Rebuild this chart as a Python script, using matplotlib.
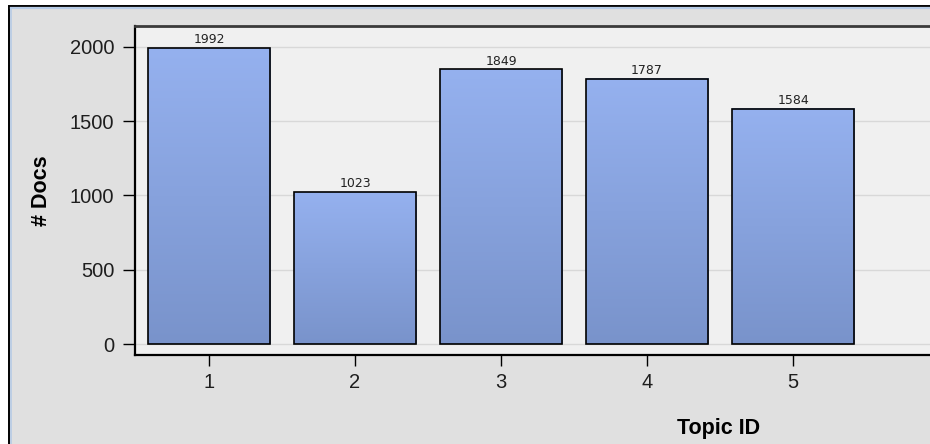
import matplotlib
matplotlib.use("Agg")
import matplotlib.pyplot as plt
import numpy as np
from matplotlib.colors import LinearSegmentedColormap
from matplotlib.patches import Rectangle
from matplotlib.lines import Line2D

topics = [1, 2, 3, 4, 5]
doc_counts = [1992, 1023, 1849, 1787, 1584]
y_ticks = [0, 500, 1000, 1500, 2000]

BAR_WIDTH = 0.836
BAR_TOP = "#95b1ef"
BAR_BOTTOM = "#7993cb"
PANEL_BG = "#e0e0e0"
PLOT_BG = "#f0f0f0"

W, H = 930, 444
fig = plt.figure(figsize=(W / 100, H / 100), dpi=100, facecolor="white")

# outer panel with black frame + light blue inner highlight (cut off right/bottom)
fig.add_artist(Rectangle((9 / W, -0.1), 1.2, (H - 6) / H + 0.1, transform=fig.transFigure,
                         facecolor=PANEL_BG, edgecolor="black", lw=1.4, zorder=-2))
fig.add_artist(Line2D([10.8 / W, 1.1], [(H - 8) / H] * 2, transform=fig.transFigure,
                      color="#b6cbe6", lw=1.6, zorder=-1))
fig.add_artist(Line2D([10.8 / W] * 2, [-0.1, (H - 8) / H], transform=fig.transFigure,
                      color="#b6cbe6", lw=1.2, zorder=-1))

left, right, top, bottom = 135, 945, 26, 355
ax = fig.add_axes([left / W, (H - bottom) / H, (right - left) / W, (bottom - top) / H])
ax.set_facecolor(PLOT_BG)

grad = LinearSegmentedColormap.from_list("bar", [BAR_BOTTOM, BAR_TOP])
g = np.linspace(0, 1, 256).reshape(-1, 1)
for x, v in zip(topics, doc_counts):
    ax.imshow(g, cmap=grad, origin="lower", aspect="auto", zorder=2,
              extent=[x - BAR_WIDTH / 2, x + BAR_WIDTH / 2, 0, v])
ax.bar(topics, doc_counts, width=BAR_WIDTH, facecolor="none", edgecolor="black",
       linewidth=1.2, zorder=3)

for x, v in zip(topics, doc_counts):
    ax.annotate(str(v), (x, v), xytext=(0, 1.2), textcoords="offset points",
                ha="center", va="bottom", fontsize=9, color="#222222",
                family="DejaVu Sans")

ax.set_xlim(0.493, 6.04)
ax.set_ylim(-74, 2141)
ax.set_xticks(topics)
ax.set_yticks(y_ticks)
ax.yaxis.grid(True, color="#d8d8d8", lw=1)
ax.set_axisbelow(True)

ax.tick_params(axis="y", direction="out", length=9, width=1, pad=6,
               labelsize=14.5, labelcolor="#1e1e1e")
ax.tick_params(axis="x", direction="out", length=8, width=1, pad=5,
               labelsize=14.5, labelcolor="#1e1e1e")
for lab in ax.get_xticklabels() + ax.get_yticklabels():
    lab.set_family("Liberation Sans")

ax.spines["left"].set_linewidth(1.6)
ax.spines["bottom"].set_linewidth(1.6)
ax.spines["top"].set_linewidth(2)
ax.spines["top"].set_color("#3a3a3a")
ax.spines["right"].set_visible(False)

ax.set_ylabel("# Docs", fontsize=15.5, fontweight="bold", family="Liberation Sans")
ax.yaxis.set_label_coords(-0.103, 0.5)
ax.set_xlabel("Topic ID", fontsize=15.5, fontweight="bold", family="Liberation Sans")
ax.xaxis.set_label_coords(0.721, -0.19)

fig.savefig("out.png", dpi=100, facecolor=fig.get_facecolor())
